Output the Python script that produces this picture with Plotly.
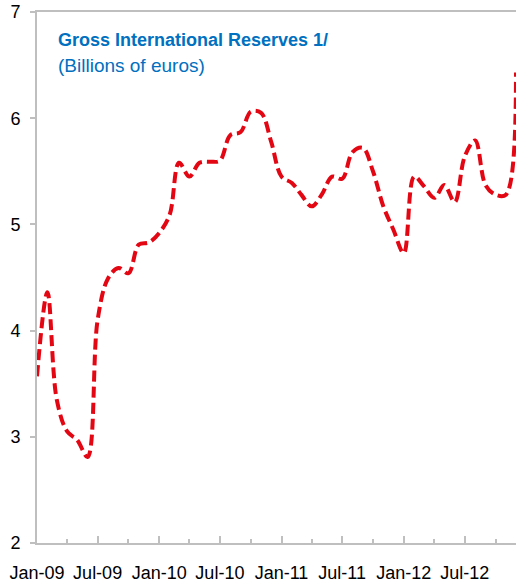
import pandas as pd
import plotly.graph_objects as go

# Monthly gross international reserves, billions of euros, Jan-09 .. Dec-12
months = pd.date_range("2009-01-01", "2012-12-01", freq="MS")
reserves = [
    3.57, 4.36, 3.35, 3.05, 2.97, 2.81, 4.10, 4.49, 4.59, 4.54, 4.81, 4.83,
    4.92, 5.09, 5.58, 5.45, 5.58, 5.59, 5.60, 5.84, 5.87, 6.06, 6.05, 5.78,
    5.45, 5.39, 5.28, 5.17, 5.28, 5.45, 5.43, 5.68, 5.72, 5.50, 5.17, 4.95,
    4.73, 5.45, 5.36, 5.25, 5.37, 5.21, 5.64, 5.79, 5.37, 5.28, 5.28, 6.43,
]

title_text = "Gross International Reserves 1/"
subtitle_text = "(Billions of euros)"
y_ticks = [2, 3, 4, 5, 6, 7]

W, H = 516, 584
M_L, M_R, M_T, M_B = 37, 0, 12, 41
plot_h = H - M_T - M_B

axis_grey = "#BFBFBF"
tick_font = dict(family="Liberation Sans, Arial, sans-serif", size=18, color="#000000")

fig = go.Figure()
fig.add_trace(go.Scatter(
    x=months,
    y=reserves,
    mode="lines",
    line=dict(color="#E30613", width=4, dash="11px,5px", shape="spline", smoothing=1),
    hoverinfo="x+y",
    showlegend=False,
))


def paper_y(px):
    return (H - M_B - px) / plot_h


fig.add_annotation(
    text="<b>" + title_text + "</b>",
    xref="paper", yref="paper", x=(56 - M_L) / (W - M_L), y=paper_y(40),
    xanchor="left", yanchor="middle", showarrow=False,
    font=dict(family="Liberation Sans, Arial, sans-serif", size=18, color="#0070C0"),
)
fig.add_annotation(
    text=subtitle_text,
    xref="paper", yref="paper", x=(56 - M_L) / (W - M_L), y=paper_y(65),
    xanchor="left", yanchor="middle", showarrow=False,
    font=dict(family="Liberation Sans, Arial, sans-serif", size=19, color="#0070C0"),
)

fig.update_layout(
    width=W, height=H,
    margin=dict(l=M_L, r=M_R, t=M_T, b=M_B, pad=0),
    paper_bgcolor="white", plot_bgcolor="white",
    xaxis=dict(
        type="date",
        range=["2009-01-01", "2012-12-01"],
        tickmode="linear", tick0="2009-01-01", dtick="M6",
        tickformat="%b-%y",
        ticks="inside", ticklen=7, tickwidth=1.5, tickcolor=axis_grey,
        minor=dict(dtick="M3", tick0="2009-01-01", ticks="inside", ticklen=4,
                   tickwidth=1.5, tickcolor=axis_grey, showgrid=False),
        showline=True, linecolor=axis_grey, linewidth=2, mirror=True,
        showgrid=False, zeroline=False,
        tickfont=tick_font, ticklabelstandoff=12,
    ),
    yaxis=dict(
        range=[2, 7],
        tickvals=y_ticks,
        ticks="outside", ticklen=5, tickwidth=1.5, tickcolor=axis_grey,
        showline=True, linecolor=axis_grey, linewidth=2,
        showgrid=False, zeroline=False,
        tickfont=tick_font, ticklabelstandoff=6,
    ),
)

fig.write_html("out.html")
